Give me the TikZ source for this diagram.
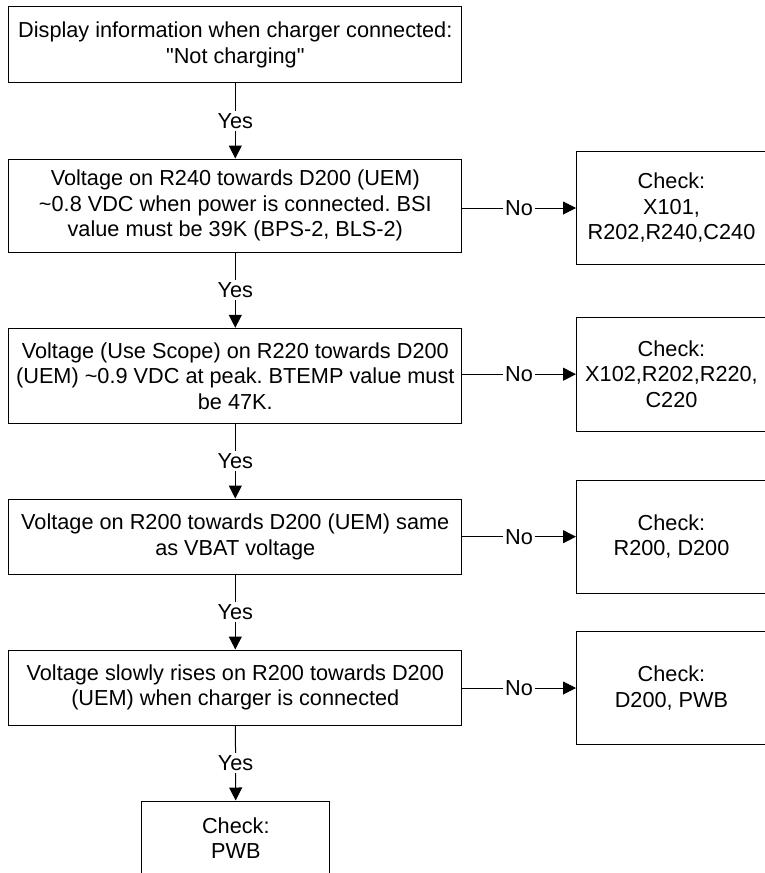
\documentclass[tikz,border=0pt]{standalone}
\usepackage{fontspec}
\setmainfont{Liberation Sans}
\usetikzlibrary{arrows.meta}
\frenchspacing

\begin{document}
\begin{tikzpicture}[x=1pt, y=-1pt,
    every node/.style={font=\fontsize{21.7}{25.5}\selectfont},
    stepbox/.style={draw, line width=1pt, align=center, inner sep=0pt, minimum width=452.7pt},
    checkbox/.style={draw, line width=1pt, align=center, inner sep=0pt, minimum width=190pt},
    flow/.style={line width=1pt, -{Triangle[length=13pt,width=13pt]}},
    answer/.style={fill=white, inner sep=2.5pt}]

        % Page size of the reference
        \useasboundingbox (0,0) rectangle (765,873);
        \clip (0,0) rectangle (765,873);
        \def\midx{235.3} % centre of the main column
        \def\chkx{671.5} % centre of the check column

        % Main column of steps
        \node[stepbox, minimum height=76pt] (display) at (\midx,44.7)
            {Display information when charger connected:\\\textquotedbl Not charging\textquotedbl};
        \node[stepbox, minimum height=93pt] (bsi) at (\midx,205.5)
            {Voltage on R240 towards D200 (UEM)\\\textasciitilde0.8 VDC when power is connected. BSI\\value must be 39K (BPS-2, BLS-2)};
        \node[stepbox, minimum height=95pt] (btemp) at (\midx,375.8)
            {Voltage (Use Scope) on R220 towards D200\\(UEM) \textasciitilde0.9 VDC at peak. BTEMP value must\\be 47K.};
        \node[stepbox, minimum height=75.3pt] (vbat) at (\midx,536.7)
            {Voltage on R200 towards D200 (UEM) same\\as VBAT voltage};
        \node[stepbox, minimum height=75pt] (rise) at (\midx,687.5)
            {Voltage slowly rises on R200 towards D200\\(UEM) when charger is connected};
        \node[draw, line width=1pt, align=center, inner sep=0pt, minimum width=188.3pt, minimum height=74pt] (pwb) at (235.8,838)
            {Check:\\PWB};

        % Check boxes on the right
        \node[checkbox, minimum height=112.6pt] (chkbsi) at (\chkx,208) {Check:\\X101,\\R202,R240,C240};
        \node[checkbox, minimum height=113.7pt] (chkbtemp) at (\chkx,374.2) {Check:\\X102,R202,R220,\\C220};
        \node[checkbox, minimum height=113.3pt] (chkvbat) at (\chkx,536.7) {Check:\\R200, D200};
        \node[checkbox, minimum height=112.6pt] (chkrise) at (\chkx,688) {Check:\\D200, PWB};

        % Yes arrows
        \draw[flow] (display) -- node[answer] {Yes} (bsi);
        \draw[flow] (bsi) -- node[answer] {Yes} (btemp);
        \draw[flow] (btemp) -- node[answer] {Yes} (vbat);
        \draw[flow] (vbat) -- node[answer] {Yes} (rise);
        \draw[flow] (rise) -- node[answer] {Yes} (pwb);

        % No arrows
        \draw[flow] (bsi.east |- chkbsi.west) -- node[answer] {No} (chkbsi.west);
        \draw[flow] (btemp.east |- chkbtemp.west) -- node[answer] {No} (chkbtemp.west);
        \draw[flow] (vbat.east |- chkvbat.west) -- node[answer] {No} (chkvbat.west);
        \draw[flow] (rise.east |- chkrise.west) -- node[answer] {No} (chkrise.west);
    \end{tikzpicture}
\end{document}
